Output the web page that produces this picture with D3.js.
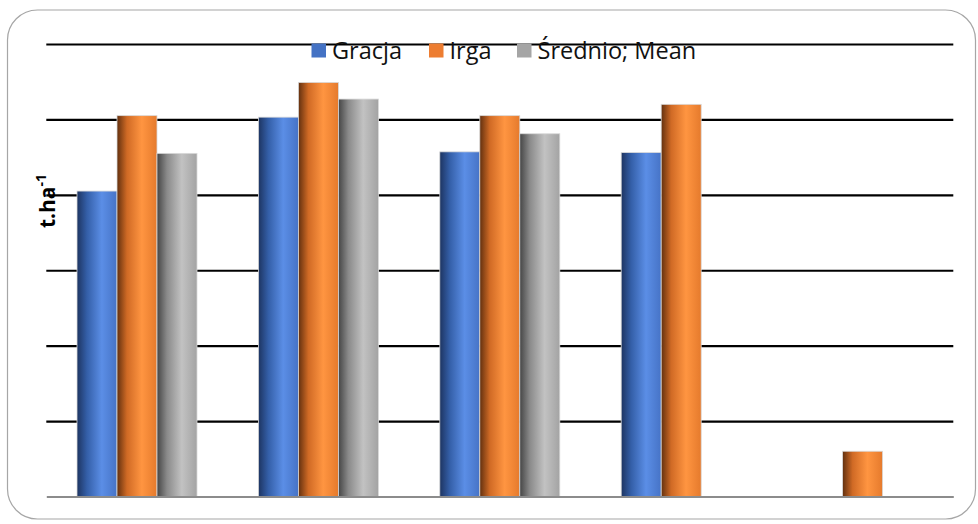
<!DOCTYPE html>
<html>
<head>
<meta charset="utf-8">
<script src="https://cdn.jsdelivr.net/npm/d3@7"></script>
<style>
  html, body { margin: 0; padding: 0; background: #fff; }
  svg { display: block; }
</style>
</head>
<body>
<svg id="chart" width="978" height="524"></svg>
<script>
// Yield per cultivar (t/ha) for five observation groups
const categories = ["I", "II", "III", "IV", "V"];
const seriesNames = ["Gracja", "Irga", "Średnio; Mean"];
const gracja = [4.05, 5.03, 4.57, 4.56, null];
const irga   = [5.05, 5.49, 5.05, 5.20, 0.60];
const mean   = [4.55, 5.27, 4.81, null, null];
const yTicks = [0, 1, 2, 3, 4, 5, 6];

const series = [gracja, irga, mean];

const svg = d3.select("#chart");

// Outer rounded frame
svg.append("rect")
  .attr("x", 7.5).attr("y", 10)
  .attr("width", 968).attr("height", 509)
  .attr("rx", 30).attr("ry", 30)
  .attr("fill", "#fff")
  .attr("stroke", "#a6a6a6").attr("stroke-width", 1.2);

const plot = { left: 46.3, right: 953.3, top: 44, bottom: 496.5 };

const x = d3.scaleBand().domain(categories).range([plot.left, plot.right]).padding(0);
const barW = 40;
const groupW = barW * series.length;
const xs = d3.scaleBand().domain(d3.range(series.length))
  .range([(x.bandwidth() - groupW) / 2, (x.bandwidth() + groupW) / 2]).padding(0);
const y = d3.scaleLinear().domain([0, 6]).range([plot.bottom, plot.top]);

// Gradients giving the bars a cylindrical look
const defs = svg.append("defs");
const gradStops = [
  [["0%", "#1d3461"], ["25%", "#345fa8"], ["62%", "#5b8ee6"], ["100%", "#4673c6"]],
  [["0%", "#62300f"], ["25%", "#d06a25"], ["62%", "#ff9541"], ["100%", "#e57a2c"]],
  [["0%", "#454545"], ["25%", "#8a8a8a"], ["62%", "#c2c2c2"], ["100%", "#a3a3a3"]]
];
gradStops.forEach((stops, i) => {
  const g = defs.append("linearGradient").attr("id", "grad" + i)
    .attr("x1", "0%").attr("x2", "100%").attr("y1", "0%").attr("y2", "0%");
  stops.forEach(s => g.append("stop").attr("offset", s[0]).attr("stop-color", s[1]));
});

// Horizontal gridlines
const grid = svg.append("g")
  .attr("transform", `translate(${plot.left},0)`)
  .call(d3.axisLeft(y).tickValues(yTicks.filter(v => v > 0))
    .tickSize(-(plot.right - plot.left)).tickFormat(""));
grid.select(".domain").remove();
grid.selectAll(".tick line").attr("stroke", "#000").attr("stroke-width", 2.2);

// Bars
const groups = svg.append("g").selectAll("g")
  .data(series).join("g");
groups.each(function (vals, si) {
  d3.select(this).selectAll("rect")
    .data(categories.map((c, ci) => ({ c, v: vals[ci] })).filter(d => d.v != null))
    .join("rect")
    .attr("x", d => x(d.c) + xs(si))
    .attr("width", xs.bandwidth())
    .attr("y", d => y(d.v))
    .attr("height", d => y(0) - y(d.v))
    .attr("fill", `url(#grad${si})`)
    .attr("stroke", "#d9d9d9").attr("stroke-width", 0.8);
});

// Category axis line
const xAxis = svg.append("g")
  .attr("transform", `translate(0,${plot.bottom})`)
  .call(d3.axisBottom(x).tickSize(0).tickFormat(""));
xAxis.select(".domain").attr("stroke", "#8c8c8c").attr("stroke-width", 2.2);

// Y-axis title
const yt = svg.append("text")
  .attr("transform", "translate(55,201) rotate(-90)")
  .attr("text-anchor", "middle")
  .attr("font-family", "'Open Sans', 'DejaVu Sans', sans-serif")
  .attr("font-weight", "bold").attr("font-size", 21)
  .attr("fill", "#000");
yt.append("tspan").text("t.ha");
yt.append("tspan").attr("dy", -9).attr("font-size", 14).text("-1");

// Legend
const legendItems = [
  { name: seriesNames[0], color: "#4472c4", sx: 311.5, tx: 332 },
  { name: seriesNames[1], color: "#ed7d31", sx: 429, tx: 449.5 },
  { name: seriesNames[2], color: "#a5a5a5", sx: 517, tx: 537.5 }
];
const lg = svg.append("g");
legendItems.forEach(it => {
  lg.append("rect").attr("x", it.sx).attr("y", 43.5).attr("width", 14.5).attr("height", 14)
    .attr("fill", it.color);
  lg.append("text").attr("x", it.tx).attr("y", 58.5)
    .attr("font-family", "'Open Sans', sans-serif")
    .attr("font-size", 23.5).attr("fill", "#111")
    .text(it.name);
});
</script>
</body>
</html>
